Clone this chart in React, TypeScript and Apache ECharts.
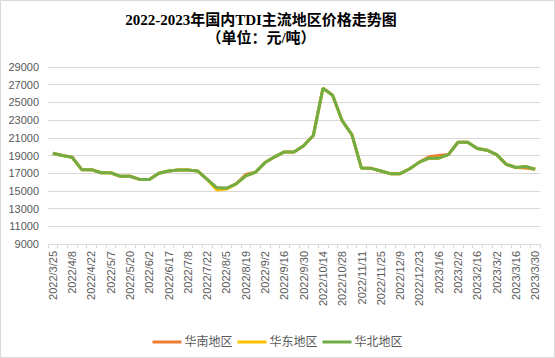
import React, { useEffect, useRef } from "react";
import * as echarts from "echarts";

const titleLine1 = "2022-2023年国内TDI主流地区价格走势图";
const titleLine2 = "（单位：元/吨）";

const categories = [
  "2022/3/25", "2022/4/1", "2022/4/8", "2022/4/15", "2022/4/22", "2022/4/29",
  "2022/5/7", "2022/5/13", "2022/5/20", "2022/5/27", "2022/6/2", "2022/6/10",
  "2022/6/17", "2022/7/1", "2022/7/8", "2022/7/15", "2022/7/22", "2022/7/29",
  "2022/8/5", "2022/8/12", "2022/8/19", "2022/8/26", "2022/9/2", "2022/9/9",
  "2022/9/16", "2022/9/23", "2022/9/30", "2022/10/7", "2022/10/14", "2022/10/21",
  "2022/10/28", "2022/11/4", "2022/11/11", "2022/11/18", "2022/11/25", "2022/12/2",
  "2022/12/9", "2022/12/16", "2022/12/23", "2022/12/30", "2023/1/6", "2023/1/13",
  "2023/2/2", "2023/2/9", "2023/2/16", "2023/2/23", "2023/3/2", "2023/3/9",
  "2023/3/16", "2023/3/23", "2023/3/30",
];

const southChina = [
  19250, 19000, 18800, 17400, 17400, 17050, 17050, 16650, 16650, 16300, 16300, 17000,
  17250, 17350, 17350, 17250, 16300, 15350, 15300, 15800, 16850, 17100, 18200, 18850,
  19400, 19400, 20100, 21250, 26600, 25800, 22900, 21350, 17550, 17550, 17250, 16950,
  16950, 17500, 18250, 18850, 19000, 19100, 20500, 20500, 19800, 19600, 19100, 18000,
  17650, 17600, 17450,
];

const eastChina = [
  19250, 19000, 18800, 17400, 17400, 17050, 17050, 16650, 16650, 16300, 16300, 17000,
  17250, 17350, 17350, 17250, 16300, 15100, 15200, 15800, 16700, 17100, 18200, 18850,
  19400, 19400, 20100, 21250, 26600, 25800, 22900, 21350, 17550, 17550, 17250, 16950,
  16950, 17500, 18250, 18700, 18700, 19100, 20500, 20500, 19800, 19600, 19100, 18000,
  17650, 17750, 17450,
];

const northChina = [
  19250, 19000, 18800, 17400, 17400, 17050, 17050, 16650, 16650, 16300, 16300, 17000,
  17250, 17350, 17350, 17250, 16300, 15350, 15300, 15800, 16700, 17100, 18200, 18850,
  19400, 19400, 20100, 21250, 26600, 25800, 22900, 21350, 17550, 17550, 17250, 16950,
  16950, 17500, 18250, 18700, 18700, 19100, 20500, 20500, 19800, 19600, 19100, 18000,
  17650, 17750, 17450,
];

const seriesNames = ["华南地区", "华东地区", "华北地区"];
const seriesColors = ["#ED7D31", "#FFC000", "#70AD47"];

const sansFont = "'Liberation Sans', 'Noto Sans CJK SC', sans-serif";
const serifFont = "'Liberation Serif', 'DejaVu Serif', 'Noto Sans CJK SC', serif";

export default function App() {
  const ref = useRef<HTMLDivElement>(null);

  useEffect(() => {
    if (!ref.current) return;
    const chart = echarts.init(ref.current, undefined, { renderer: "svg" });
    const dataSets = [southChina, eastChina, northChina];
    chart.setOption({
      animation: false,
      backgroundColor: "#ffffff",
      graphic: [
        {
          type: "rect",
          shape: { x: 0.5, y: 0.5, width: 554, height: 357 },
          style: { fill: "none", stroke: "#d9d9d9", lineWidth: 1 },
          silent: true,
        },
        {
          type: "text",
          x: 261,
          y: 20,
          style: {
            text: titleLine1,
            fill: "#000000",
            font: `bold 15px ${serifFont}`,
            textAlign: "center",
            textVerticalAlign: "middle",
          },
        },
        {
          type: "text",
          x: 261,
          y: 38,
          style: {
            text: titleLine2,
            fill: "#000000",
            font: `bold 15px ${serifFont}`,
            textAlign: "center",
            textVerticalAlign: "middle",
          },
        },
      ],
      legend: {
        data: seriesNames,
        left: "center",
        top: 331,
        icon: "rect",
        itemWidth: 29,
        itemHeight: 3,
        itemGap: 5,
        textStyle: { color: "#595959", fontSize: 12, fontFamily: sansFont, padding: [0, 0, 0, -2] },
      },
      grid: { left: 48, right: 15, top: 67, bottom: 114, containLabel: false },
      xAxis: {
        type: "category",
        data: categories,
        boundaryGap: true,
        axisLine: { lineStyle: { color: "#d9d9d9", width: 1 } },
        axisTick: { show: true, interval: 0, length: 4, lineStyle: { color: "#d9d9d9" } },
        axisLabel: {
          interval: 1,
          rotate: 90,
          margin: 7,
          color: "#595959",
          fontSize: 11,
          fontFamily: sansFont,
        },
        splitLine: { show: false },
      },
      yAxis: {
        type: "value",
        min: 9000,
        max: 29000,
        interval: 2000,
        axisLine: { show: false },
        axisTick: { show: false },
        axisLabel: {
          color: "#595959",
          fontSize: 11,
          fontFamily: sansFont,
          margin: 9,
          formatter: (v: number) => String(v),
        },
        splitLine: { lineStyle: { color: "#d9d9d9", width: 1 } },
      },
      series: seriesNames.map((name, i) => ({
        name,
        type: "line",
        data: dataSets[i],
        symbol: "none",
        color: seriesColors[i],
        lineStyle: { width: 3, color: seriesColors[i] },
        z: 2 + i,
      })),
    });
    return () => chart.dispose();
  }, []);

  return (
    <div
      ref={ref}
      style={{ position: "fixed", left: 0, top: 0, width: 555, height: 358 }}
    />
  );
}
